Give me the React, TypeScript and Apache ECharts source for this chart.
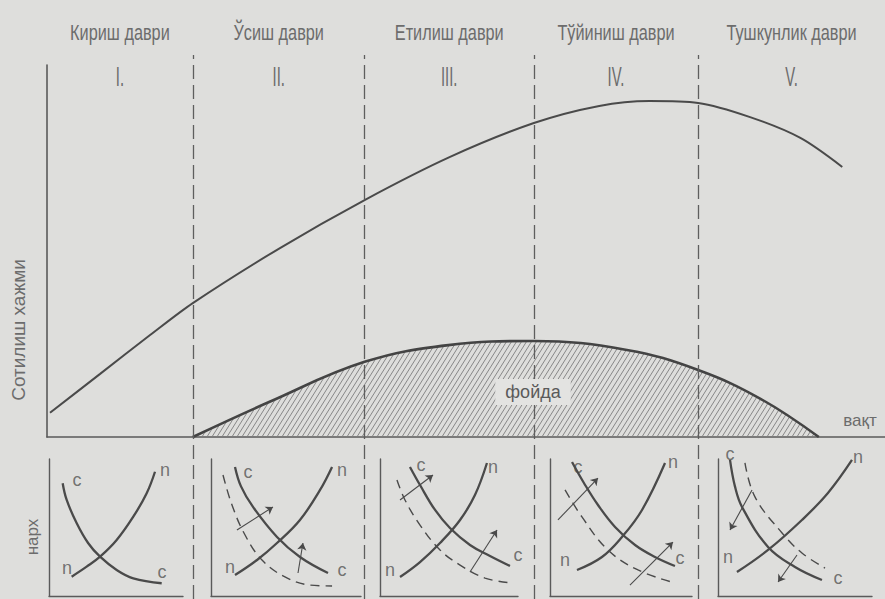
import React, { useEffect, useRef } from "react";
import * as echarts from "echarts";

// ---- period header ----
const periodNames = ["Кириш даври", "Ўсиш даври", "Етилиш даври", "Тўйиниш даври", "Тушкунлик даври"];
const periodNumerals = ["I.", "II.", "III.", "IV.", "V."];
const periodBounds = [0, 17.4, 37.9, 58.1, 77.7, 100];

// ---- main chart (time units 0..100, volume units 0..100) ----
const salesX = [0.36, 6.3, 12.3, 17.4, 27.8, 37.9, 48.1, 58.1, 65.9, 71.9, 77.7, 83.9, 89.9, 94.9];
const salesY = [6.5, 16.9, 27.4, 36, 50.8, 63.7, 75.3, 84.4, 89, 90.3, 89.8, 86, 80.4, 72.6];
const profitX = [17.4, 26.5, 37.9, 47.9, 58.1, 69.2, 77.7, 85.2, 92.1];
const profitY = [0, 9.4, 20.2, 24.7, 25.8, 23.4, 18, 10.2, 0];

// ---- small price panels (local units 0..100) ----
const p1Demand = [[10.2, 82.3], [13.2, 70.1], [20.7, 53.1], [29.3, 38.5], [38.1, 28.7], [50.5, 19], [62.9, 12.9], [84.1, 9.3]];
const p1Shifted: number[][] = [];
const p1Supply = [[16.9, 14.1], [28.1, 21.4], [38.1, 28.7], [50.5, 40.9], [62.9, 57.9], [72.9, 75], [79.1, 90.7]];
const p1Arrows: number[][] = [];
const p1Labels: [string, number, number][] = [["c", 20.9, 84.7], ["n", 86.6, 92], ["n", 13.4, 20.4], ["c", 84.3, 17.5]];

const p2Demand = [[16, 94.2], [20, 80], [28, 65], [44, 43.1], [59.3, 28.5], [78, 16.8]];
const p2Shifted = [[8, 88.3], [14, 66.4], [22.7, 44.5], [34, 26.3], [49.3, 13.9], [66, 8], [80.7, 7.3]];
const p2Supply = [[16, 15.3], [30.7, 26.3], [44, 38.7], [59.3, 55.5], [72.7, 77.4], [80.7, 94.2]];
const p2Arrows = [[17.3, 48.2, 41.3, 65], [58, 16.8, 61.3, 38.7]];
const p2Labels: [string, number, number][] = [["c", 24.7, 90.5], ["n", 87.3, 92], ["n", 12.7, 21.2], ["c", 87.3, 19]];

const p3Demand = [[21.7, 94.2], [29, 81], [39.9, 62.8], [50.7, 49.6], [65.2, 37.2], [79.7, 29.2], [94.2, 21.9]];
const p3Shifted = [[12.3, 84.7], [18.1, 70.1], [29, 51.8], [43.5, 33.6], [58, 22.6], [76.1, 13.1], [95.7, 9.5]];
const p3Supply = [[14.5, 13.9], [29, 24.8], [43.5, 38.7], [58, 55.5], [68.8, 73.7], [77.5, 97.1]];
const p3Arrows = [[14.5, 70.1, 38.4, 88.3], [65.2, 17.5, 84.8, 48.2]];
const p3Labels: [string, number, number][] = [["c", 29.7, 95.6], ["n", 81.9, 94.2], ["n", 7.2, 19], ["c", 100, 29.9]];

const p4Demand = [[15.5, 97.8], [23.9, 82.5], [33.8, 66.4], [45.8, 50.4], [59.9, 37.2], [73.9, 28.5], [88, 21.9]];
const p4Shifted = [[10.6, 77.4], [22.5, 57.7], [40.8, 33.6], [62, 19], [88, 9.5]];
const p4Supply = [[19, 19], [36.6, 28.5], [50.7, 43.1], [64.8, 62.8], [81, 97.1]];
const p4Arrows = [[5.6, 55.5, 33.8, 86.1], [56.3, 8, 86.6, 39.4]];
const p4Labels: [string, number, number][] = [["c", 19.7, 94.2], ["n", 86.6, 97.8], ["n", 10.6, 26.3], ["c", 91.5, 27.7]];

const p5Demand = [[7.8, 99.3], [11, 80], [15.6, 65], [32.5, 35.8], [50, 21.2], [67.5, 11.7]];
const p5Shifted = [[17.5, 97.1], [24, 72.3], [41.6, 46], [54.5, 31.4], [69.5, 20.4]];
const p5Supply = [[12.3, 17.5], [32.5, 33.6], [54.5, 55.5], [71.4, 75.2], [87, 99.3]];
const p5Arrows = [[22.1, 77.4, 7.8, 48.2], [51.3, 29.9, 39, 10.2]];
const p5Labels: [string, number, number][] = [["c", 7.8, 104], ["n", 90.9, 101.5], ["n", 6.5, 28.5], ["c", 77.9, 13.1]];

const panelData = [
  { demand: p1Demand, shifted: p1Shifted, supply: p1Supply, arrows: p1Arrows, labels: p1Labels },
  { demand: p2Demand, shifted: p2Shifted, supply: p2Supply, arrows: p2Arrows, labels: p2Labels },
  { demand: p3Demand, shifted: p3Shifted, supply: p3Supply, arrows: p3Arrows, labels: p3Labels },
  { demand: p4Demand, shifted: p4Shifted, supply: p4Supply, arrows: p4Arrows, labels: p4Labels },
  { demand: p5Demand, shifted: p5Shifted, supply: p5Supply, arrows: p5Arrows, labels: p5Labels },
];

// ---- layout ----
const MAIN = { left: 47, top: 65, width: 838, height: 372 };
const PANEL_TOP = 459;
const PANEL_H = 137;
const PANEL_BOXES = [
  { left: 49, width: 134 },
  { left: 211, width: 150 },
  { left: 380, width: 138 },
  { left: 550, width: 142 },
  { left: 718, width: 154 },
];

const INK = "#4a4a4a";
const TEXT = "#6c6c6c";
const SANS = "'Liberation Sans', Arial, sans-serif";

function makeHatch(): HTMLCanvasElement {
  const c = document.createElement("canvas");
  c.width = 5;
  c.height = 8;
  const ctx = c.getContext("2d")!;
  ctx.strokeStyle = "#7d7d7d";
  ctx.lineWidth = 0.9;
  ctx.beginPath();
  for (const dx of [-5, 0, 5]) {
    ctx.moveTo(dx, 8);
    ctx.lineTo(dx + 5, 0);
  }
  ctx.stroke();
  return c;
}

export default function App() {
  const ref = useRef<HTMLDivElement>(null);
  useEffect(() => {
    document.body.style.margin = "0";
    const chart = echarts.init(ref.current!, undefined, { renderer: "svg" });
    const hatch = makeHatch();

    const grids: any[] = [
      { ...MAIN, containLabel: false },
      { left: MAIN.left, width: MAIN.width, top: 55, bottom: 0 },
    ];
    const xAxes: any[] = [
      {
        gridIndex: 0, type: "value", min: 0, max: 100,
        axisLine: { show: true, lineStyle: { color: "#5a5a5a", width: 1.6 } },
        axisTick: { show: false }, axisLabel: { show: false }, splitLine: { show: false },
      },
      { gridIndex: 1, type: "value", min: 0, max: 100, show: false },
    ];
    const yAxes: any[] = [
      {
        gridIndex: 0, type: "value", min: 0, max: 100,
        axisLine: { show: true, lineStyle: { color: "#5a5a5a", width: 1.6 } },
        axisTick: { show: false }, axisLabel: { show: false }, splitLine: { show: false },
      },
      { gridIndex: 1, type: "value", min: 0, max: 1, show: false },
    ];

    const series: any[] = [
      {
        type: "line", xAxisIndex: 0, yAxisIndex: 0, smooth: 0.3, showSymbol: false,
        data: salesX.map((x, i) => [x, salesY[i]]),
        lineStyle: { color: INK, width: 2 },
        z: 5,
      },
      {
        type: "line", xAxisIndex: 0, yAxisIndex: 0, smooth: 0.4, showSymbol: false,
        data: profitX.map((x, i) => [x, profitY[i]]),
        lineStyle: { color: "#444", width: 2.6 },
        areaStyle: { color: { image: hatch, repeat: "repeat" }, opacity: 1, origin: "start" },
        z: 4,
      },
      {
        type: "line", xAxisIndex: 1, yAxisIndex: 1, data: [], showSymbol: false,
        markLine: {
          silent: true, symbol: ["none", "none"], label: { show: false },
          lineStyle: { color: "#5e5e5e", width: 1.3, type: [14, 6] },
          data: periodBounds.slice(1, -1).map((b) => ({ xAxis: b })),
        },
      },
    ];

    PANEL_BOXES.forEach((box, i) => {
      const gi = grids.length;
      grids.push({ left: box.left, width: box.width, top: PANEL_TOP, height: PANEL_H });
      const axisCommon = {
        type: "value", min: 0, max: 100,
        axisLine: { show: true, lineStyle: { color: "#5a5a5a", width: 1.4 } },
        axisTick: { show: false }, axisLabel: { show: false }, splitLine: { show: false },
      };
      xAxes.push({ ...axisCommon, gridIndex: gi });
      yAxes.push({ ...axisCommon, gridIndex: gi });
      const ai = xAxes.length - 1;
      const d = panelData[i];
      series.push({
        type: "line", xAxisIndex: ai, yAxisIndex: ai, smooth: 0.4, showSymbol: false, clip: false,
        data: d.demand, lineStyle: { color: INK, width: 2.3 },
      });
      series.push({
        type: "line", xAxisIndex: ai, yAxisIndex: ai, smooth: 0.4, showSymbol: false, clip: false,
        data: d.supply, lineStyle: { color: INK, width: 2.3 },
      });
      if (d.shifted.length) {
        series.push({
          type: "line", xAxisIndex: ai, yAxisIndex: ai, smooth: 0.4, showSymbol: false, clip: false,
          data: d.shifted, lineStyle: { color: INK, width: 1.4, type: [9, 6] },
        });
      }
      if (d.arrows.length) {
        series.push({
          type: "lines", coordinateSystem: "cartesian2d", xAxisIndex: ai, yAxisIndex: ai,
          symbol: ["none", "arrow"], symbolSize: 7,
          lineStyle: { color: INK, width: 1.1, opacity: 1 },
          data: d.arrows.map((a) => ({ coords: [[a[0], a[1]], [a[2], a[3]]] })),
        });
      }
      series.push({
        type: "scatter", xAxisIndex: ai, yAxisIndex: ai, symbolSize: 0, clip: false,
        data: d.labels.map((l) => ({ name: l[0], value: [l[1], l[2]] })),
        label: {
          show: true, position: "inside", formatter: "{b}",
          fontFamily: SANS, fontSize: 18, color: "#555",
        },
      });
    });

    const graphics: any[] = [];
    for (let i = 0; i < periodNames.length; i++) {
      const cx = MAIN.left + ((periodBounds[i] + periodBounds[i + 1]) / 2 / 100) * MAIN.width;
      graphics.push({
        type: "text", x: cx, y: 32, scaleX: 0.74,
        style: { text: periodNames[i], fontFamily: SANS, fontSize: 22, fill: TEXT, align: "center", verticalAlign: "middle" },
      });
      graphics.push({
        type: "text", x: cx, y: 77, scaleX: 0.55,
        style: { text: periodNumerals[i], fontFamily: SANS, fontSize: 27, fill: TEXT, align: "center", verticalAlign: "middle" },
      });
    }
    graphics.push({
      type: "text", x: 18, y: 330, rotation: Math.PI / 2,
      style: { text: "Сотилиш хажми", fontFamily: SANS, fontSize: 19, fill: TEXT, align: "center", verticalAlign: "middle" },
    });
    graphics.push({
      type: "text", x: 32, y: 537, rotation: Math.PI / 2,
      style: { text: "нарх", fontFamily: SANS, fontSize: 17, fill: TEXT, align: "center", verticalAlign: "middle" },
    });
    graphics.push({
      type: "text", x: 860, y: 420,
      style: { text: "вақт", fontFamily: SANS, fontSize: 17, fill: TEXT, align: "center", verticalAlign: "middle" },
    });
    graphics.push({
      type: "text", x: 533, y: 392, z: 10,
      style: {
        text: "фойда", fontFamily: SANS, fontSize: 18, fill: "#5a5a5a", align: "center", verticalAlign: "middle",
        backgroundColor: "#e3e3e1", padding: [4, 10],
      },
    });

    chart.setOption({
      animation: false,
      backgroundColor: "#dededc",
      grid: grids,
      xAxis: xAxes,
      yAxis: yAxes,
      series,
      graphic: graphics,
    });
    return () => chart.dispose();
  }, []);
  return <div ref={ref} style={{ width: 885, height: 599 }} />;
}
